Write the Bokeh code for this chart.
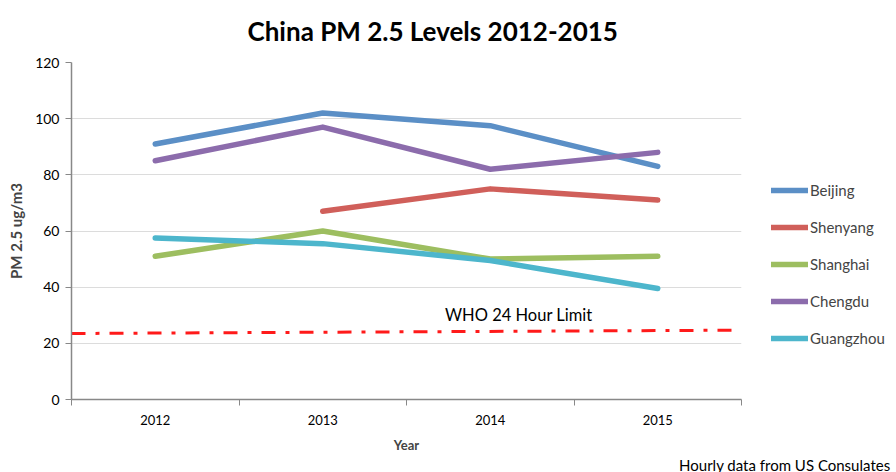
from bokeh.plotting import figure
from bokeh.models import FixedTicker, Legend, LegendItem, Label, Title
from bokeh.embed import file_html
from bokeh.resources import INLINE

years = ["2012", "2013", "2014", "2015"]
beijing = [91, 102, 97.5, 83]
shenyang = [None, 67, 75, 71]
shanghai = [51, 60, 50, 51]
chengdu = [85, 97, 82, 88]
guangzhou = [57.5, 55.5, 49.5, 39.5]
who_limit = [23.5, 24.7]
y_ticks = [0, 20, 40, 60, 80, 100, 120]

series = [
    ("Beijing", beijing, "#5b8fc6"),
    ("Shenyang", shenyang, "#d05f5a"),
    ("Shanghai", shanghai, "#9dbe60"),
    ("Chengdu", chengdu, "#8c6cac"),
    ("Guangzhou", guangzhou, "#4db6cc"),
]

FONT = "Lato"
xs = list(range(1, len(years) + 1))

p = figure(frame_width=670, frame_height=337, output_backend="svg", toolbar_location=None,
           x_range=(0.5, len(years) + 0.5), y_range=(0, 120),
           min_border_left=71, min_border_right=155, min_border_top=62, min_border_bottom=0)
p.outline_line_color = None
p.background_fill_color = "white"

p.title.text = "China PM 2.5 Levels 2012-2015"
p.title.align = "left"
p.title.offset = 176
p.title.vertical_align = "top"
p.title.standoff = 27
p.title.text_font = FONT
p.title.text_font_size = "26px"
p.title.text_font_style = "bold"
p.title.text_color = "#000000"

# x axis
p.xaxis.ticker = FixedTicker(ticks=xs, minor_ticks=[x - 0.5 for x in xs] + [xs[-1] + 0.5])
p.xaxis.major_label_overrides = {x: y for x, y in zip(xs, years)}
p.xaxis.major_tick_out = 0
p.xaxis.major_tick_in = 0
p.xaxis.minor_tick_out = 6
p.xaxis.minor_tick_in = 0
p.xaxis.minor_tick_line_color = "#888888"
p.xaxis.axis_line_color = "#888888"
p.xaxis.axis_line_width = 1.5
p.xaxis.major_label_text_font = FONT
p.xaxis.major_label_text_font_size = "13px"
p.xaxis.major_label_text_color = "#000000"
p.xaxis.major_label_standoff = 9
p.xaxis.axis_label = "Year"
p.xaxis.axis_label_text_font = FONT
p.xaxis.axis_label_text_font_size = "13px"
p.xaxis.axis_label_text_font_style = "bold"
p.xaxis.axis_label_standoff = 9
p.xgrid.visible = False

# y axis
p.yaxis.ticker = FixedTicker(ticks=y_ticks)
p.yaxis.major_tick_out = 6
p.yaxis.major_tick_in = 0
p.yaxis.minor_tick_out = 0
p.yaxis.minor_tick_in = 0
p.yaxis.major_tick_line_color = "#888888"
p.yaxis.axis_line_color = "#888888"
p.yaxis.axis_line_width = 1.5
p.yaxis.major_label_text_font = FONT
p.yaxis.major_label_text_font_size = "14px"
p.yaxis.major_label_text_color = "#000000"
p.yaxis.major_label_standoff = 6
p.yaxis.axis_label = "PM 2.5 ug/m3"
p.yaxis.axis_label_text_font = FONT
p.yaxis.axis_label_text_font_size = "15px"
p.yaxis.axis_label_text_font_style = "bold"
p.yaxis.axis_label_standoff = 7
p.ygrid.grid_line_color = "#dcdcdc"
p.ygrid.grid_line_width = 1

items = []
for name, vals, color in series:
    px = [x for x, v in zip(xs, vals) if v is not None]
    py = [v for v in vals if v is not None]
    r = p.line(px, py, line_color=color, line_width=5.5, line_cap="round", line_join="round")
    items.append(LegendItem(label=name, renderers=[r]))

p.line([0.5, len(years) + 0.5], who_limit, line_color="#ff1a1a", line_width=3,
       line_dash="14 10 4 10")
p.add_layout(Label(x=2.73, y=26.5, text="WHO 24 Hour Limit", text_font=FONT,
                   text_font_size="16.5px", text_color="#000000", text_baseline="bottom"))

legend = Legend(items=items, location=(30, 51), glyph_width=37, glyph_height=20,
                label_standoff=2, spacing=17, padding=0, margin=0,
                label_text_font=FONT, label_text_font_size="15px",
                border_line_color=None, background_fill_alpha=0)
p.add_layout(legend, "right")

footer = Title(text="Hourly data from US Consulates", align="right", offset=-149,
               vertical_align="top", standoff=0,
               text_font=FONT, text_font_size="15px", text_font_style="normal",
               text_color="#000000")
p.add_layout(footer, "below")

open("out.html", "w").write(file_html(p, INLINE))
